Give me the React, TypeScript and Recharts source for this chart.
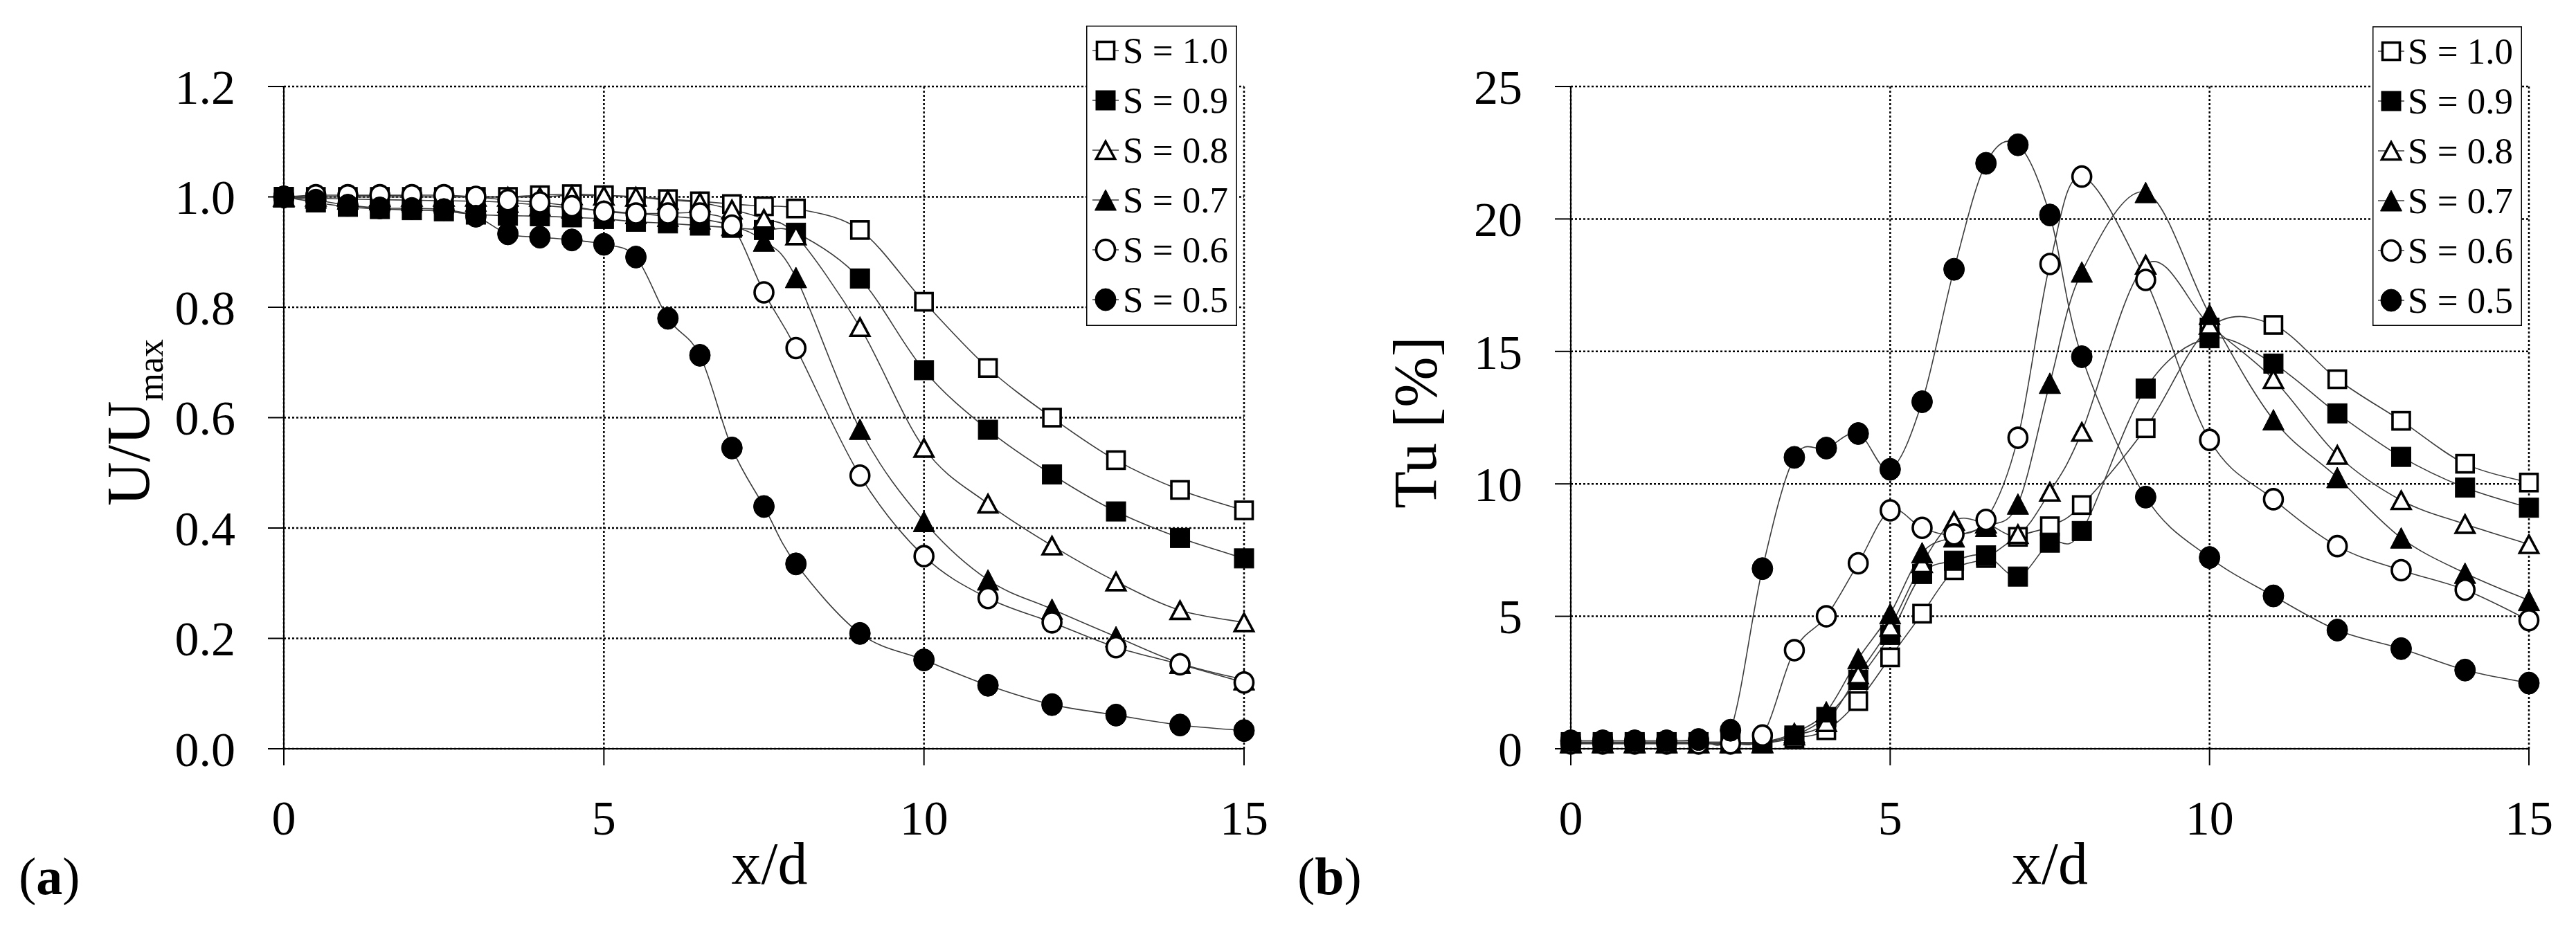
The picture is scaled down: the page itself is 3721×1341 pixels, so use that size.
import React from "react";
import { CartesianGrid, Line, LineChart, XAxis, YAxis } from "recharts";

// x/d stations (0.5 step up to 8, then 1)
const X_D = [0, 0.5, 1, 1.5, 2, 2.5, 3, 3.5, 4, 4.5, 5, 5.5, 6, 6.5, 7, 7.5, 8, 9, 10, 11, 12, 13, 14, 15];

// (a) U/Umax
const U_S10 = [1.0, 1.0, 1.0, 1.0, 1.0, 1.0, 1.0, 1.0, 1.003, 1.005, 1.003, 1.0, 0.996, 0.992, 0.987, 0.983, 0.979, 0.94, 0.81, 0.69, 0.6, 0.523, 0.469, 0.432];
const U_S09 = [1.0, 0.99, 0.982, 0.978, 0.976, 0.974, 0.968, 0.966, 0.965, 0.963, 0.96, 0.955, 0.952, 0.948, 0.944, 0.94, 0.935, 0.852, 0.686, 0.578, 0.497, 0.43, 0.382, 0.345];
const U_S08 = [1.0, 1.0, 1.0, 1.0, 1.0, 1.0, 1.0, 1.0, 1.0, 1.003, 1.002, 1.0, 0.994, 0.99, 0.977, 0.96, 0.93, 0.764, 0.545, 0.444, 0.368, 0.303, 0.251, 0.229];
const U_S07 = [1.0, 0.998, 0.996, 0.995, 0.994, 0.993, 0.992, 0.99, 0.985, 0.98, 0.975, 0.97, 0.965, 0.96, 0.948, 0.92, 0.854, 0.579, 0.412, 0.306, 0.253, 0.203, 0.155, 0.125];
const U_S06 = [1.0, 1.003, 1.003, 1.003, 1.003, 1.003, 1.0, 0.994, 0.99, 0.983, 0.973, 0.97, 0.97, 0.97, 0.948, 0.827, 0.726, 0.495, 0.349, 0.273, 0.229, 0.184, 0.153, 0.12];
const U_S05 = [1.0, 0.994, 0.985, 0.98, 0.979, 0.977, 0.965, 0.933, 0.927, 0.922, 0.914, 0.891, 0.78, 0.713, 0.545, 0.439, 0.335, 0.209, 0.161, 0.115, 0.08, 0.061, 0.043, 0.033];

// (b) Tu [%]
const TU_S10 = [0.2, 0.2, 0.2, 0.2, 0.2, 0.2, 0.2, 0.4, 0.7, 1.8, 3.45, 5.1, 6.74, 7.2, 8.0, 8.4, 9.2, 12.1, 15.9, 16.0, 13.95, 12.38, 10.76, 10.05];
const TU_S09 = [0.25, 0.25, 0.25, 0.25, 0.25, 0.25, 0.25, 0.5, 1.2, 2.6, 4.3, 6.6, 7.1, 7.3, 6.5, 7.78, 8.22, 13.6, 15.5, 14.54, 12.66, 11.02, 9.86, 9.1];
const TU_S08 = [0.2, 0.2, 0.2, 0.2, 0.2, 0.2, 0.2, 0.5, 1.0, 2.8, 4.6, 7.0, 8.6, 8.5, 8.1, 9.7, 11.96, 18.27, 16.0, 13.95, 11.09, 9.38, 8.48, 7.72];
const TU_S07 = [0.25, 0.25, 0.25, 0.25, 0.25, 0.25, 0.25, 0.6, 1.4, 3.4, 5.1, 7.4, 8.0, 8.4, 9.24, 13.8, 18.0, 21.0, 16.4, 12.42, 10.24, 7.96, 6.63, 5.6];
const TU_S06 = [0.2, 0.2, 0.2, 0.2, 0.2, 0.2, 0.5, 3.72, 5.0, 7.0, 9.0, 8.34, 8.09, 8.64, 11.74, 18.3, 21.6, 17.7, 11.66, 9.42, 7.65, 6.74, 6.0, 4.85];
const TU_S05 = [0.3, 0.3, 0.3, 0.3, 0.35, 0.7, 6.8, 11.0, 11.35, 11.9, 10.55, 13.1, 18.1, 22.1, 22.8, 20.15, 14.8, 9.5, 7.22, 5.77, 4.48, 3.78, 2.97, 2.48];

const SERIES_KEYS = ["s10", "s09", "s08", "s07", "s06", "s05"];
const SERIES_LABELS = ["S = 1.0", "S = 0.9", "S = 0.8", "S = 0.7", "S = 0.6", "S = 0.5"];
const X_TICKS = [0, 5, 10, 15];
const U_TICKS = [0, 0.2, 0.4, 0.6, 0.8, 1.0, 1.2];
const TU_TICKS = [0, 5, 10, 15, 20, 25];

const FONT = "'Liberation Serif', 'Times New Roman', serif";
const LINE_COLOR = "#3c3c3c";

type Shape = "square" | "triangle" | "circle";
const MARKER_STYLE: Record<string, { shape: Shape; filled: boolean }> = {
  s10: { shape: "square", filled: false },
  s09: { shape: "square", filled: true },
  s08: { shape: "triangle", filled: false },
  s07: { shape: "triangle", filled: true },
  s06: { shape: "circle", filled: false },
  s05: { shape: "circle", filled: true },
};

const buildRows = (cols: number[][]) =>
  X_D.map((x, i) => {
    const row: Record<string, number> = { x };
    SERIES_KEYS.forEach((k, j) => (row[k] = cols[j][i]));
    return row;
  });

const U_ROWS = buildRows([U_S10, U_S09, U_S08, U_S07, U_S06, U_S05]);
const TU_ROWS = buildRows([TU_S10, TU_S09, TU_S08, TU_S07, TU_S06, TU_S05]);

// Excel-like smoothed line (Catmull-Rom through the points)
function excelSmooth(context: any) {
  let pts: number[][] = [];
  return {
    areaStart() {},
    areaEnd() {},
    lineStart() {
      pts = [];
    },
    point(x: number, y: number) {
      pts.push([+x, +y]);
    },
    lineEnd() {
      const n = pts.length;
      if (!n) return;
      context.moveTo(pts[0][0], pts[0][1]);
      for (let i = 0; i < n - 1; i++) {
        const p0 = pts[Math.max(0, i - 1)];
        const p1 = pts[i];
        const p2 = pts[i + 1];
        const p3 = pts[Math.min(n - 1, i + 2)];
        context.bezierCurveTo(
          p1[0] + (p2[0] - p0[0]) / 6,
          p1[1] + (p2[1] - p0[1]) / 6,
          p2[0] - (p3[0] - p1[0]) / 6,
          p2[1] - (p3[1] - p1[1]) / 6,
          p2[0],
          p2[1]
        );
      }
    },
  };
}

function Marker({ cx, cy, shape, filled }: { cx: number; cy: number; shape: Shape; filled: boolean }) {
  const fill = filled ? "#000" : "#fff";
  const sw = filled ? 1 : 3.6;
  if (shape === "square") {
    const s = filled ? 28 : 25;
    return <rect x={cx - s / 2} y={cy - s / 2} width={s} height={s} fill={fill} stroke="#000" strokeWidth={sw} />;
  }
  if (shape === "triangle") {
    const w = filled ? 31 : 27;
    const h = filled ? 30 : 25;
    const pts = `${cx},${cy - h / 2} ${cx + w / 2},${cy + h / 2} ${cx - w / 2},${cy + h / 2}`;
    return <polygon points={pts} fill={fill} stroke="#000" strokeWidth={sw} strokeLinejoin="miter" />;
  }
  return <ellipse cx={cx} cy={cy} rx={filled ? 15 : 13.5} ry={filled ? 16 : 14.5} fill={fill} stroke="#000" strokeWidth={sw} />;
}

const dotFor = (key: string) => (props: any) => {
  const { cx, cy, index } = props;
  if (cx == null || cy == null) return <g key={`${key}-${index}`} />;
  return <Marker key={`${key}-${index}`} cx={cx} cy={cy} {...MARKER_STYLE[key]} />;
};

function LegendBox({ left, top, width, height, markerX, textX }: any) {
  return (
    <svg style={{ position: "absolute", left, top, overflow: "visible" }} width={width} height={height}>
      <rect x={0.75} y={0.75} width={width - 1.5} height={height - 1.5} fill="#fff" stroke="#000" strokeWidth={1.5} />
      {SERIES_KEYS.map((k, i) => {
        const cy = 36 + i * 72;
        return (
          <g key={k}>
            <line x1={markerX - 19} x2={markerX + 19} y1={cy} y2={cy} stroke={LINE_COLOR} strokeWidth={1.6} />
            <Marker cx={markerX} cy={cy} {...MARKER_STYLE[k]} />
            <text x={textX} y={cy + 18} fontFamily={FONT} fontSize={53} fill="#000">
              {SERIES_LABELS[i]}
            </text>
          </g>
        );
      })}
    </svg>
  );
}

const tickStyle = { fontSize: 70, fill: "#000", fontFamily: FONT };

function Panel({ rows, yTicks, yFormat, yMax, yTitle, marginLeft, marginRight, width, xTitleShift }: any) {
  return (
    <LineChart
      width={width}
      height={1341}
      data={rows}
      margin={{ top: 125, right: marginRight, bottom: 159, left: marginLeft }}
    >
      <CartesianGrid stroke="#000" strokeWidth={2.5} strokeDasharray="3 3" />
      <XAxis
        dataKey="x"
        type="number"
        domain={[0, 15]}
        ticks={X_TICKS}
        height={100}
        tick={tickStyle}
        tickSize={24}
        tickMargin={50}
        axisLine={{ stroke: "#000", strokeWidth: 2 }}
        tickLine={{ stroke: "#000", strokeWidth: 2 }}
        label={(p: any) => {
          const vb = p.viewBox;
          return (
            <text
              x={vb.x + vb.width / 2 + xTitleShift}
              y={vb.y + 195}
              textAnchor="middle"
              fontFamily={FONT}
              fontSize={86}
              fill="#000"
            >
              x/d
            </text>
          );
        }}
      />
      <YAxis
        type="number"
        domain={[0, yMax]}
        ticks={yTicks}
        width={100}
        tick={tickStyle}
        tickFormatter={yFormat}
        tickSize={23}
        tickMargin={47}
        interval={0}
        axisLine={{ stroke: "#000", strokeWidth: 2 }}
        tickLine={{ stroke: "#000", strokeWidth: 2 }}
        label={(p: any) => {
          const vb = p.viewBox;
          const bx = vb.x + vb.width - 195;
          const cy = vb.y + vb.height / 2 + 7;
          return <g transform={`translate(${bx},${cy}) rotate(-90)`}>{yTitle}</g>;
        }}
      />
      {SERIES_KEYS.map((k) => (
        <Line
          key={k}
          dataKey={k}
          type={excelSmooth as any}
          stroke={LINE_COLOR}
          strokeWidth={1.6}
          dot={dotFor(k)}
          activeDot={false}
          isAnimationActive={false}
        />
      ))}
    </LineChart>
  );
}

const uTitle = (
  <text textAnchor="middle" fontFamily={FONT} fontSize={88} fill="#000">
    U/U
    <tspan fontSize={52} dy={20}>
      max
    </tspan>
  </text>
);

const tuTitle = (
  <text textAnchor="middle" fontFamily={FONT} fontSize={88} fill="#000">
    Tu [%]
  </text>
);

const panelTag = (letter: string, left: number) => (
  <div style={{ position: "absolute", left, top: 1228, fontSize: 76, lineHeight: 1, fontFamily: FONT }}>
    (<b>{letter}</b>)
  </div>
);

export default function App() {
  return (
    <div style={{ position: "relative", width: 3721, height: 1341, background: "#fff", fontFamily: FONT }}>
      <style>{"body{margin:0;background:#fff}"}</style>
      <div style={{ position: "absolute", left: 0, top: 0 }}>
        <Panel
          rows={U_ROWS}
          yTicks={U_TICKS}
          yFormat={(v: number) => v.toFixed(1)}
          yMax={1.2}
          yTitle={uTitle}
          marginLeft={310}
          marginRight={63}
          width={1860}
          xTitleShift={8}
        />
      </div>
      <div style={{ position: "absolute", left: 1860, top: 0 }}>
        <Panel
          rows={TU_ROWS}
          yTicks={TU_TICKS}
          yFormat={(v: number) => String(v)}
          yMax={25}
          yTitle={tuTitle}
          marginLeft={309}
          marginRight={68}
          width={1861}
          xTitleShift={0}
        />
      </div>
      <LegendBox left={1569} top={37} width={218} height={434} markerX={28} textX={53} />
      <LegendBox left={3427} top={38} width={216} height={433} markerX={27} textX={51} />
      {panelTag("a", 27)}
      {panelTag("b", 1874)}
    </div>
  );
}
